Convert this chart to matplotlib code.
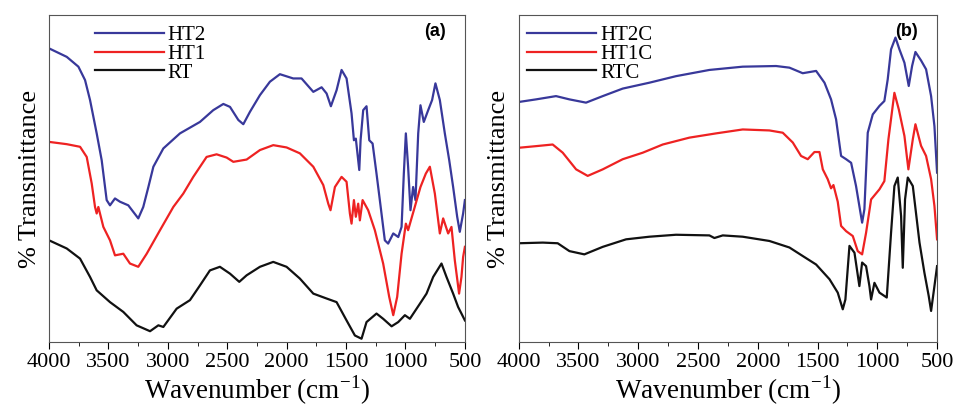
# FTIR spectra of the raw and heat-treated samples, panels (a) and (b)

import numpy as np
import matplotlib
matplotlib.use('Agg')
import matplotlib.pyplot as plt
from matplotlib.ticker import MultipleLocator

plt.rcParams['font.family'] = 'Liberation Serif'
plt.rcParams['mathtext.fontset'] = 'custom'
plt.rcParams['mathtext.rm'] = 'Liberation Serif'

# Panel (a): values (wavenumber in cm-1, transmittance in arbitrary units)
ht2_wn = [4000, 3851, 3753, 3697, 3655, 3599, 3557, 3515, 3487, 3445, 3403, 3333, 3249, 3207, 3164,
          3122, 3038, 2898, 2730, 2618, 2533, 2477, 2407, 2365, 2309, 2225, 2141, 2057, 1945, 1875,
          1776, 1706, 1664, 1628, 1580, 1538, 1496, 1454, 1434, 1418, 1389, 1378, 1356, 1328, 1305,
          1277, 1244, 1216, 1174, 1146, 1103, 1061, 1033, 1014, 997, 978, 958, 936, 916, 893, 874,
          846, 809, 776, 748, 711, 669, 632, 599, 565, 543, 515, 500]
ht2_t = [89.8, 87.2, 84.2, 80.1, 74.0, 63.8, 55.6, 43.4, 41.8, 43.9, 42.9, 41.8, 37.8, 41.3, 47.4,
         53.6, 59.2, 63.8, 67.3, 70.9, 72.8, 71.9, 67.9, 66.6, 70.4, 75.5, 79.6, 81.9, 80.6, 80.6,
         76.5, 77.9, 76.0, 72.1, 77.0, 83.2, 80.6, 69.9, 61.7, 62.2, 52.6, 61.7, 70.9, 72.1, 61.7,
         60.7, 51.5, 43.4, 31.1, 30.1, 33.2, 32.1, 35.2, 51.5, 63.8, 53.6, 40.3, 47.4, 43.4, 63.8, 72.4,
         67.3, 70.9, 74.0, 79.1, 74.0, 63.8, 55.6, 47.4, 38.3, 33.7, 39.3, 43.4]

ht1_wn = [4000, 3851, 3739, 3683, 3641, 3613, 3599, 3585, 3543, 3487, 3445, 3375, 3319, 3249, 3178,
          3066, 2954, 2870, 2786, 2674, 2590, 2505, 2449, 2337, 2225, 2113, 2001, 1889, 1776, 1692,
          1650, 1631, 1594, 1538, 1496, 1468, 1454, 1434, 1418, 1398, 1384, 1361, 1314, 1258, 1188,
          1137, 1103, 1070, 1033, 997, 978, 922, 874, 829, 795, 753, 711, 683, 641, 613, 585, 549,
          529, 515, 500]
ht1_t = [61.2, 60.5, 59.7, 56.6, 48.5, 41.3, 39.3, 41.3, 35.2, 31.1, 26.5, 27.0, 24.0, 23.0, 27.0,
         34.2, 41.3, 45.4, 50.5, 56.6, 57.4, 56.4, 55.1, 55.8, 58.7, 60.2, 59.5, 57.7, 53.6, 48.0,
         42.3, 40.3, 47.4, 50.5, 49.0, 39.3, 36.2, 43.4, 38.3, 42.3, 37.2, 43.4, 40.3, 34.2, 24.0,
         13.8, 8.2, 13.8, 27.0, 36.2, 34.2, 41.3, 47.4, 51.5, 53.6, 45.4, 33.2, 37.8, 33.2, 35.2, 25.0, 14.8,
         19.9, 26.0, 29.1]

rt_wn = [4000, 3851, 3739, 3655, 3599, 3487, 3375, 3263, 3150, 3080, 3038, 2926, 2814, 2730, 2646,
         2562, 2477, 2399, 2337, 2225, 2113, 2001, 1889, 1776, 1664, 1580, 1496, 1426, 1370, 1328,
         1244, 1188, 1117, 1061, 1005, 963, 879, 823, 767, 697, 655, 599, 557, 529, 500]
rt_t = [31.1, 28.6, 25.5, 19.9, 15.8, 12.2, 9.2, 5.1, 3.3, 5.1, 4.6, 10.2, 12.8, 17.3, 21.9,
        23.0, 20.9, 18.4, 20.4, 23.0, 24.5, 23.0, 19.4, 14.8, 13.3, 12.2, 6.6, 2.0, 1.0, 6.1,
        8.7, 7.1, 4.8, 6.1, 8.2, 7.1, 11.7, 14.8, 19.9, 24.0, 19.9, 14.8, 10.7, 8.7, 6.6]

# Panel (b)
ht2c_wn = [4000, 3855, 3688, 3576, 3437, 3297, 3130, 2907, 2684, 2405, 2126, 1847, 1735, 1624, 1512,
           1442, 1387, 1345, 1303, 1261, 1219, 1178, 1127, 1108, 1080, 1038, 982, 941, 913, 885, 848,
           815, 773, 737, 709, 681, 634, 592, 550, 522, 500]
ht2c_t = [73.4, 74.2, 75.2, 74.2, 73.2, 75.2, 77.5, 79.3, 81.3, 83.2, 84.2, 84.4, 83.9, 82.2, 82.9,
          79.3, 74.2, 68.1, 56.9, 55.9, 54.8, 47.7, 36.5, 40.6, 64.0, 69.6, 72.2, 73.7, 80.3, 89.5, 93.1,
          89.5, 85.4, 78.3, 84.4, 88.7, 86.1, 83.4, 75.2, 66.0, 51.8]

ht1c_wn = [4000, 3855, 3716, 3632, 3520, 3423, 3297, 3130, 2962, 2795, 2572, 2349, 2126, 1903, 1791,
           1707, 1638, 1582, 1526, 1484, 1456, 1415, 1387, 1367, 1331, 1303, 1261, 1205, 1164, 1127,
           1094, 1052, 982, 941, 907, 857, 820, 773, 740, 703, 681, 634, 592, 550, 522, 500]
ht1c_t = [59.4, 59.9, 60.4, 57.9, 52.8, 50.8, 52.8, 55.9, 57.9, 60.4, 62.5, 63.8, 65.0, 64.7, 64.0,
          61.0, 56.9, 55.9, 58.1, 58.1, 52.8, 49.8, 47.0, 48.0, 42.9, 35.5, 33.9, 32.4, 27.8, 26.8,
          33.4, 43.6, 46.7, 49.2, 62.0, 76.2, 71.1, 63.0, 52.8, 62.0, 66.6, 60.0, 56.9, 49.8, 41.6, 31.4]

rtc_wn = [4000, 3799, 3674, 3576, 3451, 3297, 3102, 2907, 2684, 2405, 2363, 2293, 2126, 1903, 1735,
          1624, 1512, 1400, 1331, 1289, 1267, 1233, 1191, 1150, 1127, 1094, 1066, 1052, 1024, 982,
          921, 885, 857, 829, 801, 787, 768, 745, 703, 647, 606, 570, 550, 522, 500]
rtc_t = [30.2, 30.4, 30.2, 27.8, 26.8, 29.1, 31.4, 32.2, 32.8, 32.6, 31.8, 32.6, 32.2, 30.9, 28.9,
         26.3, 23.7, 19.2, 15.1, 10.0, 13.0, 29.4, 27.3, 17.1, 24.3, 23.2, 17.1, 13.0, 18.1, 15.1,
         13.6, 33.4, 47.7, 50.3, 38.5, 22.7, 43.6, 50.3, 47.7, 30.4, 21.2, 14.1, 9.5, 17.1, 23.2]

blue = '#38389a'
red = '#ee2222'
black = '#111111'

fig = plt.figure(figsize=(9.56, 4.09), dpi=100)
ax1 = fig.add_axes([0.0513, 0.1638, 0.435, 0.7995])
ax2 = fig.add_axes([0.5426, 0.1638, 0.4376, 0.7995])

panels = [
    (ax1, '(a)', [(ht2_wn, ht2_t, blue, 'HT2'), (ht1_wn, ht1_t, red, 'HT1'), (rt_wn, rt_t, black, 'RT')]),
    (ax2, '(b)', [(ht2c_wn, ht2c_t, blue, 'HT2C'), (ht1c_wn, ht1c_t, red, 'HT1C'), (rtc_wn, rtc_t, black, 'RTC')]),
]

for ax, tag, series in panels:
    for wn, t, c, lab in series:
        ax.plot(wn, t, color=c, lw=1.6, label=lab)
    ax.set_xlim(4000, 500)
    ax.set_ylim(0, 100)
    ax.xaxis.set_major_locator(MultipleLocator(500))
    ax.xaxis.set_minor_locator(MultipleLocator(250))
    ax.tick_params(axis='x', which='major', direction='out', length=5, labelsize=16, pad=3)
    ax.tick_params(axis='x', which='minor', direction='out', length=3)
    ax.set_yticks([])
    for s in ax.spines.values():
        s.set_color('#555555')
    ax.set_xlabel('Wavenumber (cm$^{-1}$)', fontsize=19.5, labelpad=1)
    ax.set_ylabel('% Transmittance', fontsize=19, labelpad=6)
    ax.text(0.955, 0.975, tag, transform=ax.transAxes, ha='right', va='top',
            fontsize=13, fontweight='bold', family='Liberation Sans')
    ax.legend(loc='upper left', bbox_to_anchor=(0.08 if tag == '(a)' else -0.01, 1.005),
              frameon=False, fontsize=15, handlelength=3.3, labelspacing=-0.05,
              handletextpad=0.2, borderaxespad=0.2)

fig.savefig('out.png', dpi=100)
